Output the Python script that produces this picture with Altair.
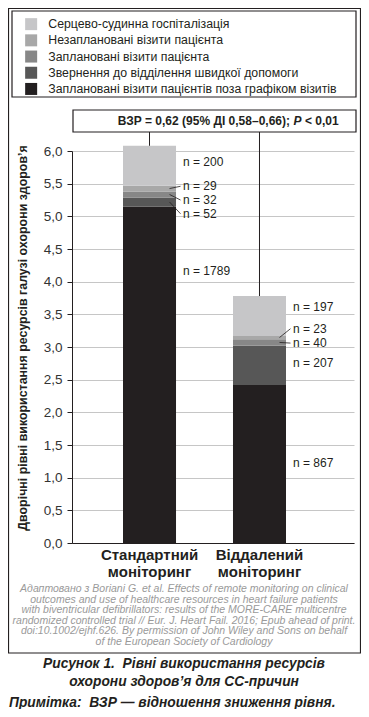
import altair as alt
import pandas as pd

# ---------------- data ----------------
categories = ["Стандартний моніторинг", "Віддалений моніторинг"]
# segment types, bottom to top of the stack
types = [
    "Заплановані візити пацієнтів поза графіком візитів",
    "Звернення до відділення швидкої допомоги",
    "Заплановані візити пацієнта",
    "Незаплановані візити пацієнта",
    "Серцево-судинна госпіталізація",
]
standard_vals = [5.15, 0.14, 0.09, 0.09, 0.61]
remote_vals = [2.42, 0.60, 0.10, 0.05, 0.61]
standard_n = [1789, 52, 32, 29, 200]
remote_n = [867, 207, 40, 23, 197]
# where each "n = ..." label sits (data units)
standard_label_y = [4.17, 5.04, 5.25, 5.46, 5.83]
remote_label_y = [1.23, 2.76, 3.06, 3.28, 3.61]
colors = ["#231f20", "#575757", "#878787", "#a8a8a8", "#c6c6c8"]
y_ticks = [0.0, 0.5, 1.0, 1.5, 2.0, 2.5, 3.0, 3.5, 4.0, 4.5, 5.0, 5.5, 6.0]

y_title = "Дворічні рівні використання ресурсів галузі охорони здоров’я"
ratio_text = "ВЗР = 0,62 (95% ДІ 0,58–0,66);"
ratio_p = "P"
ratio_tail = "< 0,01"
citation = ("Адаптовано з Boriani G. et al. Effects of remote monitoring on clinical\n"
            "outcomes and use of healthcare resources in heart failure patients\n"
            "with biventricular defibrillators: results of the MORE-CARE multicentre\n"
            "randomized controlled trial // Eur. J. Heart Fail. 2016; Epub ahead of print.\n"
            "doi:10.1002/ejhf.626. By permission of John Wiley and Sons on behalf\n"
            "of the European Society of Cardiology")
caption = "Рисунок 1.\u00a0 Рівні використання ресурсів\nохорони здоров’я для СС-причин"
note = "Примітка:\u00a0 ВЗР — відношення зниження рівня."

# ---------------- tables ----------------
rows = []
for cat, vals, ns, labs in [(categories[0], standard_vals, standard_n, standard_label_y),
                            (categories[1], remote_vals, remote_n, remote_label_y)]:
    cum = 0.0
    for t, v, n, ly in zip(types, vals, ns, labs):
        rows.append({"cat": cat, "type": t, "value": v, "y_lo": cum, "y_hi": cum + v,
                     "mid": cum + v / 2, "lab": ly, "ntext": f"n = {n}"})
        cum += v
df = pd.DataFrame(rows)
totals = df.groupby("cat", as_index=False)["value"].sum().rename(columns={"value": "total"})
one = pd.DataFrame({"a": [0]})

FONT = "Liberation Sans"
INK = "#231f20"

x_scale = alt.Scale(paddingInner=0.518, paddingOuter=0.541, align=0.4286)
x_axis = alt.Axis(title=None, labelExpr="split(datum.label, ' ')", ticks=False, labelAngle=0,
                  labelFontSize=15, labelFontWeight="bold", labelColor=INK, labelPadding=4,
                  labelBaseline="top", labelLineHeight=17, domainColor=INK, grid=False)
y_scale = alt.Scale(domain=[0, 6], nice=False)
y_axis = alt.Axis(title=None, values=y_ticks, labelOverlap=False,
                  labelExpr="replace(format(datum.value, '.1f'), '.', ',')",
                  labelFontSize=13.5, labelColor="#333333", labelPadding=5, tickSize=5,
                  tickColor=INK, domainColor=INK, grid=True, gridColor="#c6c6c6", gridWidth=1)

def yenc(field):
    return alt.Y(field, scale=y_scale, axis=y_axis)

xcat = alt.X("cat:N", sort=categories, scale=x_scale, axis=x_axis)

legend_domain = list(reversed(types))
legend_range = list(reversed(colors))

bars = alt.Chart(df).mark_bar().encode(
    x=xcat,
    y=yenc("y_lo:Q"),
    y2="y_hi:Q",
    color=alt.Color("type:N", scale=alt.Scale(domain=legend_domain, range=legend_range),
                    legend=alt.Legend(title=None, orient="none", legendX=-47, legendY=-133,
                                      direction="vertical", symbolType="square", symbolSize=144,
                                      symbolStrokeWidth=0, symbolOpacity=1, labelFontSize=12.3,
                                      labelFont=FONT, labelColor=INK, labelOffset=11,
                                      rowPadding=3.2, labelLimit=400, padding=0)),
)

labels = alt.Chart(df).mark_text(align="left", baseline="middle", dx=33.5, fontSize=12,
                                 color=INK, font=FONT).encode(
    x=xcat, y=yenc("lab:Q"), text="ntext:N")

leaders = alt.Chart(df).transform_filter("datum.value < 0.2").mark_rule(
    xOffset=20, x2Offset=31, strokeWidth=0.8, color=INK).encode(
    x=xcat, x2="cat:N", y=yenc("mid:Q"), y2="lab:Q")

connectors = alt.Chart(totals).mark_rule(strokeWidth=1, color=INK).encode(
    x=xcat, y=yenc("total:Q"), y2=alt.value(-19))

def box(x1, x2, y1, y2, sw=1.2):
    return alt.Chart(one).mark_rect(fill="white", fillOpacity=0, stroke=INK, strokeWidth=sw).encode(
        x=alt.value(x1), x2=alt.value(x2), y=alt.value(y1), y2=alt.value(y2))

frame = box(-63.5, 288.5, -142.5, 502)
legend_box = box(-60, 284, -140, -54)
ratio_box = box(1, 284, -41, -19)

def txt(text, x, y, **kw):
    d = pd.DataFrame({"t": [text]})
    return alt.Chart(d).mark_text(font=FONT, **kw).encode(
        text="t:N", x=alt.value(x), y=alt.value(y))

r1 = txt(ratio_text, 218, -30, align="right", baseline="middle", fontSize=12,
         fontWeight="bold", color=INK)
r2 = txt(ratio_p, 221.5, -30, align="left", baseline="middle", fontSize=12,
         fontWeight="bold", fontStyle="italic", color=INK)
r3 = txt(ratio_tail, 233, -30, align="left", baseline="middle", fontSize=12,
         fontWeight="bold", color=INK)

ytitle = txt(y_title, -49, 187, align="center", baseline="middle", angle=270,
             fontSize=12.4, fontWeight="bold", color=INK)

cit = txt(citation, 112, 433, align="center", baseline="top", fontSize=10.5,
          fontStyle="italic", color="#9a9a9a", lineBreak="\n", lineHeight=10.6)
cap = txt(caption, 112, 506, align="center", baseline="top", fontSize=13.8,
          fontStyle="italic", fontWeight="bold", color=INK, lineBreak="\n", lineHeight=18)
nt = txt(note, -63, 545, align="left", baseline="top", fontSize=13.8,
         fontStyle="italic", fontWeight="bold", color=INK)

chart = alt.layer(
    frame, legend_box, ratio_box, bars, connectors, leaders, labels,
    r1, r2, r3, ytitle, cit, cap, nt,
).properties(
    width=282, height=392, autosize="none",
    padding={"left": 64, "top": 143, "right": 7, "bottom": 166},
).configure(font=FONT).configure_view(stroke=None)

chart.save("out.html", embed_options={"renderer": "svg", "actions": False})
